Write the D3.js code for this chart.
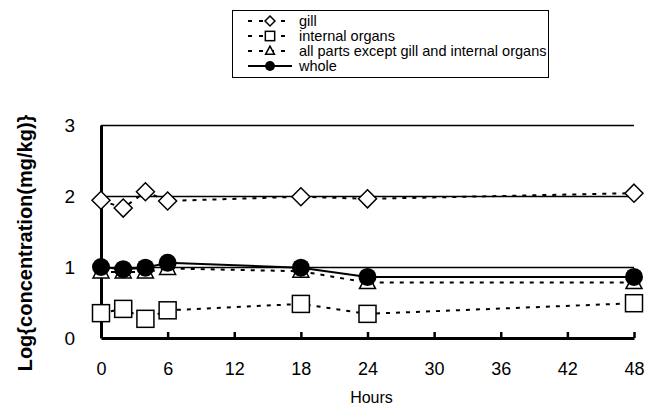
<!DOCTYPE html>
<html><head><meta charset="utf-8">
<script src="https://cdn.jsdelivr.net/npm/d3@7"></script>
<style>body{margin:0;background:#fff}svg{display:block}</style>
</head><body>
<script>
const hours = [0, 2, 4, 6, 18, 24, 48];
const gill = [1.94, 1.83, 2.06, 1.93, 1.99, 1.96, 2.04];
const internalOrgans = [0.35, 0.41, 0.27, 0.39, 0.48, 0.34, 0.49];
const allParts = [0.93, 0.93, 0.93, 0.98, 0.94, 0.78, 0.78];
const whole = [1.0, 0.97, 0.99, 1.06, 0.99, 0.86, 0.86];
const xTicks = [0, 6, 12, 18, 24, 30, 36, 42, 48];
const yTicks = [0, 1, 2, 3];
const legendLabels = ["gill", "internal organs", "all parts except gill and internal organs", "whole"];

const W = 665, H = 412;
const svg = d3.select("body").append("svg").attr("width", W).attr("height", H);
const x = d3.scaleLinear().domain([0, 48]).range([101, 634]);
const y = d3.scaleLinear().domain([0, 3]).range([338, 125]);
const font = "'Liberation Sans', Arial, sans-serif";

// gridlines
svg.append("g").selectAll("line").data(yTicks.filter(d => d > 0)).join("line")
  .attr("x1", x(0)).attr("x2", x(48)).attr("y1", d => Math.round(y(d)) + 0.5).attr("y2", d => Math.round(y(d)) + 0.5)
  .attr("stroke", "#000").attr("stroke-width", 1.3);

// axes
const xAxis = svg.append("g").attr("transform", `translate(0,${y(0)})`)
  .call(d3.axisBottom(x).tickValues(xTicks).tickFormat(d3.format("d")).tickSizeInner(-6).tickSizeOuter(0).tickPadding(24));
xAxis.select(".domain").attr("stroke-width", 3);
xAxis.selectAll(".tick line").attr("stroke-width", 2.5);
xAxis.selectAll("text").attr("font-family", font).attr("font-size", 18).attr("fill", "#000");

const yAxis = svg.append("g").attr("transform", `translate(${x(0)},0)`)
  .call(d3.axisLeft(y).tickValues(yTicks).tickFormat(d3.format("d")).tickSizeInner(0).tickSizeOuter(0).tickPadding(26));
yAxis.select(".domain").attr("stroke-width", 3);
yAxis.selectAll("text").attr("font-family", font).attr("font-size", 19).attr("fill", "#000");

svg.append("text").attr("x", x(24) + 4).attr("y", 403).attr("text-anchor", "middle")
  .attr("font-family", font).attr("font-size", 16).text("Hours");
svg.append("text").attr("transform", `translate(32,243) rotate(-90)`).attr("text-anchor", "middle")
  .attr("font-family", font).attr("font-size", 20).attr("font-weight", "bold").text("Log{concentration(mg/kg)}");

const series = [
  {vals: gill, dash: "4,6", shape: "diamond"},
  {vals: internalOrgans, dash: "4,6", shape: "square"},
  {vals: allParts, dash: "4,6", shape: "triangle"},
  {vals: whole, dash: null, shape: "circle"}
];
const line = d3.line().x((d, i) => x(hours[i])).y(d => y(d));
series.forEach(s => {
  svg.append("path").attr("d", line(s.vals)).attr("fill", "none").attr("stroke", "#000")
    .attr("stroke-width", 2).attr("stroke-dasharray", s.dash);
});
function marker(g, shape, cx, cy, scale) {
  const k = scale || 1;
  if (shape === "diamond") {
    g.append("path").attr("d", `M${cx},${cy-9*k}L${cx+9*k},${cy}L${cx},${cy+9*k}L${cx-9*k},${cy}Z`)
      .attr("fill", "#fff").attr("stroke", "#000").attr("stroke-width", 1.5);
  } else if (shape === "square") {
    g.append("rect").attr("x", cx-8.5*k).attr("y", cy-8.5*k).attr("width", 17*k).attr("height", 17*k)
      .attr("fill", "#fff").attr("stroke", "#000").attr("stroke-width", 1.5);
  } else if (shape === "triangle") {
    g.append("path").attr("d", `M${cx},${cy-9*k}L${cx+8*k},${cy+6*k}L${cx-8*k},${cy+6*k}Z`)
      .attr("fill", "#fff").attr("stroke", "#000").attr("stroke-width", 1.5);
  } else {
    g.append("circle").attr("cx", cx).attr("cy", cy).attr("r", 9*k).attr("fill", "#000");
  }
}
[0, 1, 2, 3].forEach(si => {
  const g = svg.append("g");
  series[si].vals.forEach((v, i) => marker(g, series[si].shape, x(hours[i]), y(v)));
});

// legend
const lg = svg.append("g");
lg.append("rect").attr("x", 232.5).attr("y", 10.5).attr("width", 316).attr("height", 67)
  .attr("fill", "#fff").attr("stroke", "#000").attr("stroke-width", 1);
legendLabels.forEach((lab, i) => {
  const cy = 21 + i * 15;
  const s = series[i];
  lg.append("line").attr("x1", 248).attr("x2", 292).attr("y1", cy).attr("y2", cy)
    .attr("stroke", "#000").attr("stroke-width", 2).attr("stroke-dasharray", s.dash ? "4,7" : null);
  marker(lg, s.shape, 270, cy, 0.55);
  lg.append("text").attr("x", 299).attr("y", cy + 5).attr("font-family", font)
    .attr("font-size", 14.5).text(lab);
});
</script>
</body></html>
